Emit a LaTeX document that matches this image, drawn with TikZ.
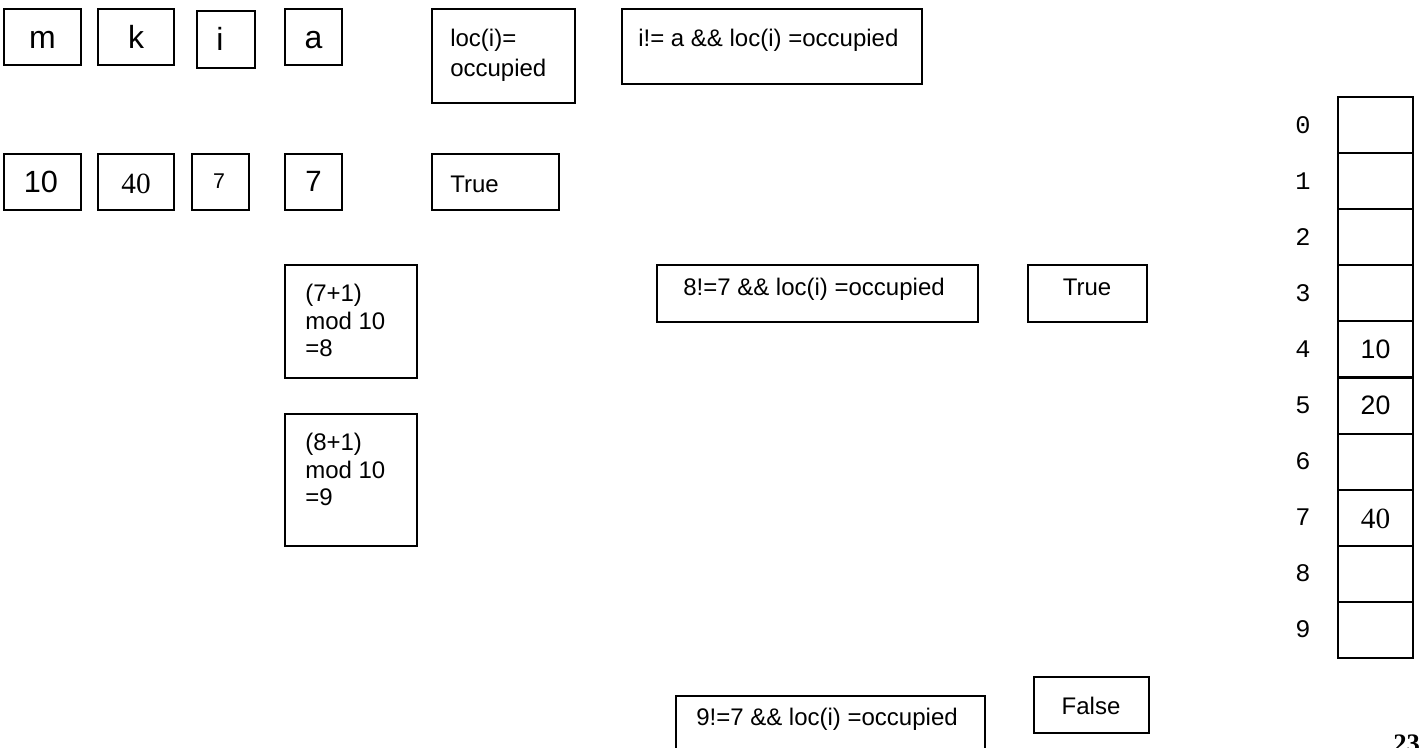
\documentclass[tikz,border=0pt]{standalone}
\usepackage{fontspec}
\setmainfont{Liberation Sans}
\newfontfamily\serifnum{Liberation Serif}
\newfontfamily\monoidx{Liberation Mono}
\begin{document}
\begin{tikzpicture}[x=0.75pt, y=-0.75pt,
  box/.style={draw, line width=1.1pt, inner sep=0pt, outer sep=0pt},
  slot/.style={draw, line width=1.6pt, inner sep=0pt, outer sep=0pt},
  sz/.style 2 args={minimum width=#1*0.75pt, minimum height=#2*0.75pt},
  lbl/.style={inner sep=0pt, anchor=base, font=\fontsize{22}{26}\selectfont},
  letter/.style={inner sep=0pt, anchor=base, font=\fontsize{24}{28}\selectfont},
  txt/.style={inner sep=0pt, anchor=base west, font=\fontsize{18}{22}\selectfont},
  ctxt/.style={inner sep=0pt, anchor=base, font=\fontsize{18}{22}\selectfont},
  idx/.style={inner sep=0pt, anchor=base, font=\monoidx\fontsize{19}{22}\selectfont},
  num/.style={inner sep=0pt, anchor=base, font=\fontsize{20}{24}\selectfont}]
\useasboundingbox (0,0) rectangle (1420,747);
\clip (0,0) rectangle (1420,747);

% variable names
\node[box, sz={77}{56}] (bm) at (42.5,37) {};
\node[box, sz={76}{56}] (bk) at (136,37) {};
\node[box, sz={58}{57}] (bi) at (226,39.5) {};
\node[box, sz={57}{56}] (ba) at (313.5,37) {};
\node[letter] (lm) at (42.5,48) {m};
\node[letter] (lk) at (136,48) {k};
\node[letter] (li) at (220,50) {i};
\node[letter] (la) at (313.5,48) {a};

% their values
\node[box, sz={77}{56}] (vm) at (42.5,182) {};
\node[box, sz={76}{56}] (vk) at (136,182) {};
\node[box, sz={57}{56}] (vi) at (220.5,182) {};
\node[box, sz={57}{56}] (va) at (313.5,182) {};
\node[lbl, font=\fontsize{23}{27}\selectfont] (wm) at (41,192) {10};
\node[lbl, font=\serifnum\fontsize{22}{26}\selectfont] (wk) at (136,193) {40};
\node[lbl, font=\fontsize{16}{20}\selectfont] (wi) at (219,188) {7};
\node[lbl] (wa) at (313.5,191) {7};

% occupancy test
\node[box, sz={143}{94}] (bloc) at (503.5,56) {};
\node[txt] (tloc1) at (450,46) {loc(i)=};
\node[txt] (tloc2) at (450,76) {occupied};
\node[box, sz={127}{56}] (btrue) at (495.5,182) {};
\node[txt] (ttrue) at (450,192) {True};

% loop condition
\node[box, sz={300}{75}] (bcond) at (772,46.5) {};
\node[txt] (tcond) at (638,46) {i!= a \&\& loc(i) =occupied};

% probe steps
\node[box, sz={132}{113}] (bmod1) at (351,321.5) {};
\node[txt] (tm11) at (305,301) {(7+1)};
\node[txt] (tm12) at (305,329) {mod 10};
\node[txt] (tm13) at (305,356) {=8};
\node[box, sz={132}{132}] (bmod2) at (351,480) {};
\node[txt] (tm21) at (305,450) {(8+1)};
\node[txt] (tm22) at (305,478) {mod 10};
\node[txt] (tm23) at (305,505) {=9};

% condition checks
\node[box, sz={321}{57}] (bc8) at (817.5,293.5) {};
\node[ctxt] (tc8) at (814,295) {8!=7 \&\& loc(i) =occupied};
\node[box, sz={119}{57}] (bt8) at (1087.5,293.5) {};
\node[ctxt] (tt8) at (1087,295) {True};
\node[box, sz={309}{57}] (bc9) at (830.5,724.5) {};
\node[ctxt] (tc9) at (827,725) {9!=7 \&\& loc(i) =occupied};
\node[box, sz={115}{56}] (bf9) at (1091.5,705) {};
\node[ctxt] (tf9) at (1091,714) {False};

% hash table
\foreach \r in {0,...,9} {
  \node[slot, sz={75}{56.1}] (s\r) at (1375.5,{125.05+56.1*\r}) {};
  \node[idx] (n\r) at (1303,{133+56.1*\r}) {\r};
}
\node[num] (h4) at (1375.5,358) {10};
\node[num] (h5) at (1375.5,414) {20};
\node[num, font=\serifnum\fontsize{22}{26}\selectfont] (h7) at (1375.5,528) {40};

% page number
\node[inner sep=0pt, anchor=base west, font=\serifnum\bfseries\fontsize{20}{24}\selectfont] (pg) at (1393,752) {23};
\end{tikzpicture}
\end{document}
